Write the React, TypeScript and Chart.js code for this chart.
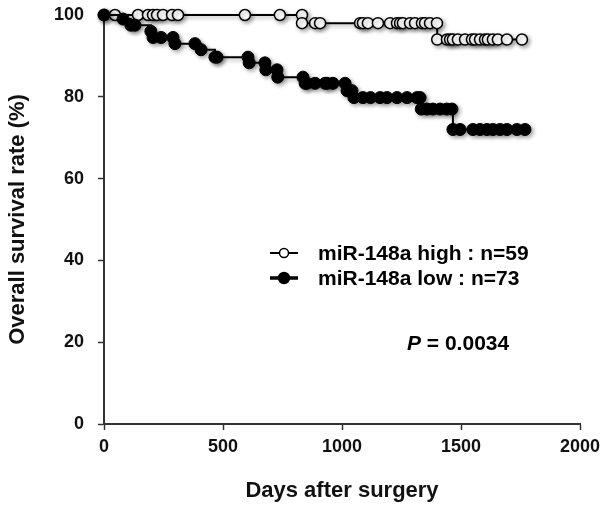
import { useEffect, useRef } from "react";
import { Chart, registerables } from "chart.js";

Chart.register(...registerables);

// ---- Data ----
const highDays = [
  0, 46, 143, 185, 206, 223, 248, 286, 311, 592,
  739, 832, 832, 887, 908, 1076, 1088, 1109, 1151, 1202,
  1231, 1244, 1256, 1286, 1307, 1336, 1349, 1370, 1399, 1400,
  1441, 1454, 1466, 1487, 1517, 1546, 1559, 1580, 1601, 1613,
  1634, 1655, 1693, 1756,
];
const highSurvival = [
  100, 100, 100, 100, 100, 100, 100, 100, 100, 100,
  100, 100, 98, 98, 98, 98, 98, 98, 98, 98,
  98, 98, 98, 98, 98, 98, 98, 98, 98, 94,
  94, 94, 94, 94, 94, 94, 94, 94, 94, 94,
  94, 94, 94, 94,
];
const lowDays = [
  0, 80, 113, 130, 197, 206, 240, 290, 298, 382,
  408, 466, 475, 605, 610, 676, 680, 727, 730, 836,
  845, 853, 887, 929, 937, 962, 1013, 1021, 1042, 1050,
  1088, 1120, 1160, 1189, 1231, 1273, 1315, 1328, 1333, 1357,
  1382, 1412, 1440, 1462, 1466, 1496, 1550, 1580, 1609, 1634,
  1664, 1693, 1735, 1769,
];
const lowSurvival = [
  100, 99, 97.5, 97.5, 96, 94.5, 94.5, 94.5, 93, 93,
  91.5, 89.7, 89.7, 89.7, 88.3, 88.3, 86.6, 86.6, 84.8, 84.8,
  83.3, 83.3, 83.3, 83.3, 83.3, 83.3, 83.3, 81.5, 81.5, 79.8,
  79.8, 79.8, 79.8, 79.8, 79.8, 79.8, 79.8, 79.8, 77, 77,
  77, 77, 77, 77, 72, 72, 72, 72, 72, 72,
  72, 72, 72, 72,
];
const xTickValues = [0, 500, 1000, 1500, 2000];
const yTickValues = [0, 20, 40, 60, 80, 100];
const legendLabels = ["miR-148a high : n=59", "miR-148a low : n=73"];
const pSymbol = "P";
const pValueText = " = 0.0034";
const xTitle = "Days after surgery";
const yTitle = "Overall survival rate (%)";

const FONT = "'Liberation Sans', Arial, Helvetica, sans-serif";

const shadowPlugin = {
  id: "markShadow",
  beforeDatasetsDraw(chart: any) {
    const ctx = chart.ctx;
    ctx.save();
    ctx.shadowColor = "rgba(0,0,0,0.35)";
    ctx.shadowBlur = 4;
    ctx.shadowOffsetX = 2;
    ctx.shadowOffsetY = 2;
  },
  afterDatasetsDraw(chart: any) {
    chart.ctx.restore();
  },
};

const overlayPlugin = {
  id: "overlay",
  afterDraw(chart: any) {
    const ctx = chart.ctx;
    ctx.save();
    const rows = [
      { y: 253, fill: "#ffffff", r: 4.5, lw: 2 },
      { y: 278, fill: "#000000", r: 5.5, lw: 3.5 },
    ];
    rows.forEach((row, i) => {
      ctx.strokeStyle = "#000";
      ctx.lineWidth = row.lw;
      ctx.beginPath();
      ctx.moveTo(270, row.y);
      ctx.lineTo(298, row.y);
      ctx.stroke();
      ctx.beginPath();
      ctx.arc(284, row.y, row.r, 0, Math.PI * 2);
      ctx.fillStyle = row.fill;
      ctx.fill();
      ctx.lineWidth = 1.5;
      ctx.stroke();
      ctx.fillStyle = "#000";
      ctx.font = `bold 21px ${FONT}`;
      ctx.textBaseline = "middle";
      ctx.textAlign = "left";
      ctx.fillText(legendLabels[i], 318, row.y + 1);
    });
    ctx.font = `italic bold 21px ${FONT}`;
    ctx.fillText(pSymbol, 407, 344);
    const w = ctx.measureText(pSymbol).width;
    ctx.font = `bold 21px ${FONT}`;
    ctx.fillText(pValueText, 407 + w, 344);
    ctx.restore();
  },
};

export default function App() {
  const canvasRef = useRef<HTMLCanvasElement | null>(null);

  useEffect(() => {
    if (!canvasRef.current) return;
    const chart = new Chart(canvasRef.current, {
      type: "line",
      data: {
        datasets: [
          {
            label: "miR-148a low",
            data: lowDays.map((d, i) => ({ x: d, y: lowSurvival[i] })),
            stepped: "before",
            borderColor: "#000",
            borderWidth: 2,
            pointRadius: 6,
            pointBackgroundColor: "#000",
            pointBorderColor: "#000",
            pointBorderWidth: 1,
            clip: false,
          } as any,
          {
            label: "miR-148a high",
            data: highDays.map((d, i) => ({ x: d, y: highSurvival[i] })),
            stepped: "before",
            borderColor: "#000",
            borderWidth: 2,
            pointRadius: 5.5,
            pointBackgroundColor: "#fff",
            pointBorderColor: "#000",
            pointBorderWidth: 1.5,
            clip: false,
          } as any,
        ],
      },
      options: {
        responsive: false,
        animation: false,
        layout: { padding: { top: 15, right: 20, left: 0, bottom: 0 } },
        plugins: {
          legend: { display: false },
          tooltip: { enabled: false },
        },
        scales: {
          x: {
            type: "linear",
            min: 0,
            max: 2000,
            afterBuildTicks: (s: any) => {
              s.ticks = xTickValues.map((v) => ({ value: v }));
            },
            afterFit: (s: any) => {
              s.height = 85;
              s.paddingLeft = 0;
              s.paddingRight = 0;
            },
            ticks: {
              color: "#111",
              font: { family: FONT, size: 18, weight: "bold" },
              padding: 6,
              maxRotation: 0,
              callback: (v: any) => String(v),
            },
            grid: {
              drawOnChartArea: false,
              drawTicks: true,
              tickLength: 6,
              tickColor: "#333",
              tickWidth: 1.5,
            },
            border: { display: true, color: "#333", width: 2 },
            title: {
              display: true,
              text: xTitle,
              color: "#111",
              font: { family: FONT, size: 22, weight: "bold" },
              padding: { top: 0, bottom: 5 },
            },
          },
          y: {
            type: "linear",
            min: 0,
            max: 100,
            afterBuildTicks: (s: any) => {
              s.ticks = yTickValues.map((v) => ({ value: v }));
            },
            afterFit: (s: any) => {
              s.width = 104;
              s.paddingTop = 0;
              s.paddingBottom = 0;
            },
            ticks: {
              color: "#111",
              font: { family: FONT, size: 18, weight: "bold" },
              padding: 14,
              callback: (v: any) => String(v),
            },
            grid: {
              drawOnChartArea: false,
              drawTicks: true,
              tickLength: 6,
              tickColor: "#333",
              tickWidth: 1.5,
            },
            border: { display: true, color: "#333", width: 2 },
            title: {
              display: true,
              text: yTitle,
              color: "#111",
              font: { family: FONT, size: 22, weight: "bold" },
              padding: { top: 5, bottom: 0 },
            },
          },
        },
      } as any,
      plugins: [shadowPlugin, overlayPlugin],
    });
    return () => chart.destroy();
  }, []);

  return (
    <div style={{ position: "absolute", left: 0, top: 0, width: 600, height: 509, background: "#fff" }}>
      <canvas ref={canvasRef} width={600} height={509} style={{ display: "block" }} />
    </div>
  );
}
